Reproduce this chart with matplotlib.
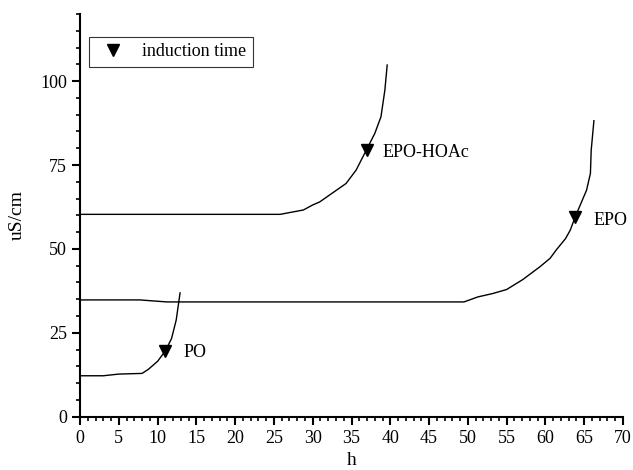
import numpy as np
import matplotlib.pyplot as plt
from matplotlib.ticker import MultipleLocator

# conductivity curves
po_h = [0, 3, 5, 8, 8.8, 10, 11, 11.8, 12.4, 12.9]
po_s = [12.2, 12.2, 12.7, 12.9, 14.1, 16.5, 19.6, 23.3, 28.8, 36.9]

epo_h = [0, 7.7, 11.2, 49.5, 51.3, 53.2, 55, 57.1, 59.3, 60.6, 61.4, 62.6, 63.2, 63.85, 64.4, 65.3, 65.8, 65.9, 66.1, 66.25]
epo_s = [34.8, 34.8, 34.2, 34.2, 35.7, 36.7, 37.9, 40.9, 44.7, 47.2, 49.7, 53.1, 55.6, 59.6, 62.6, 67.5, 72.5, 79.4, 84.4, 88.2]

hoac_h = [0, 25.8, 28.8, 30.0, 30.9, 34.3, 35.6, 36.9, 38.0, 38.8, 39.3, 39.6]
hoac_s = [60.3, 60.3, 61.6, 63.1, 64.0, 69.5, 73.5, 79.4, 84.4, 89.4, 97.3, 104.8]

# induction time points
ind_h = [11, 63.85, 37]
ind_s = [19.6, 59.6, 79.6]
labels = ["PO", "EPO", "EPO-HOAc"]
label_pos = [(13.4, 19.0), (66.2, 58.5), (39.0, 78.8)]

plt.rcParams['font.family'] = ['Liberation Serif', 'DejaVu Serif']

fig = plt.figure(figsize=(6.33, 4.70), dpi=100)
ax = fig.add_axes([0.1264, 0.1134, 0.8578, 0.8568])

for h, s in [(po_h, po_s), (epo_h, epo_s), (hoac_h, hoac_s)]:
    ax.plot(h, s, color="black", lw=1.0)

ax.plot(ind_h, ind_s, "v", color="black", ms=9, ls="none", label="induction time")

for lab, (x, y) in zip(labels, label_pos):
    ax.text(x, y, lab, fontsize=13, va="center", ha="left")

ax.set_xlim(0, 70)
ax.set_ylim(0, 120)
ax.xaxis.set_major_locator(MultipleLocator(5))
ax.xaxis.set_minor_locator(MultipleLocator(1))
ax.yaxis.set_major_locator(MultipleLocator(25))
ax.yaxis.set_minor_locator(MultipleLocator(5))
ax.set_yticks([0, 25, 50, 75, 100])

for side in ["top", "right"]:
    ax.spines[side].set_visible(False)
for side in ["left", "bottom"]:
    ax.spines[side].set_linewidth(1.5)

ax.tick_params(which="major", direction="out", length=6, width=1.5, labelsize=13)
ax.tick_params(which="minor", direction="out", length=3, width=1.2)

ax.set_xlabel("h", fontsize=14, labelpad=4)
ax.set_ylabel("uS/cm", fontsize=14, labelpad=10)

leg = ax.legend(loc="upper left", bbox_to_anchor=(0.0166, 0.943), borderaxespad=0,
                fontsize=13, frameon=True, fancybox=False, edgecolor="black",
                handlelength=2.0, borderpad=0.35, handletextpad=0.6)
leg.get_frame().set_linewidth(0.8)

fig.savefig("out.png", dpi=100)
